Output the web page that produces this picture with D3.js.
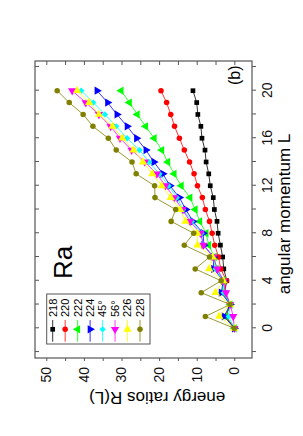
<!DOCTYPE html>
<html>
<head>
<meta charset="utf-8">
<script src="https://cdn.jsdelivr.net/npm/d3@7"></script>
<style>
  body { margin: 0; background: #fff; }
  text { font-family: "Liberation Sans", Arial, sans-serif; }
</style>
</head>
<body>
<svg id="chart" width="303" height="436"></svg>
<script>
// angular momentum L (x) and energy ratios R(L) per nucleus
const angMom = [0, 1, 2, 3, 4, 5, 6, 7, 8, 9, 10, 11, 12, 13, 14, 15, 16, 17, 18, 19, 20]

const r218 = [0, 2.3, 1.1, 2.6, 2.0, 2.8, 3.1, 3.7, 4.3, 4.6, 5.3, 5.6, 6.4, 6.8, 7.5, 7.8, 8.6, 8.9, 9.7, 10.0, 11.0]
const r220 = [0, 2.2, 1.1, 2.8, 2.1, 3.6, 4.2, 5.2, 5.9, 6.6, 7.7, 8.5, 9.8, 10.7, 11.9, 13.3, 14.6, 15.9, 16.9, 18.0, 19.5]
const r222 = [0, 2.5, 1.1, 3.2, 2.8, 4.8, 5.3, 6.8, 7.5, 9.2, 10.4, 11.8, 14.1, 16.0, 17.7, 19.3, 21.3, 23.6, 25.8, 27.9, 30.1]
const r224 = [0, 2.7, 1.1, 3.5, 2.9, 5.5, 5.6, 8.1, 8.3, 11.0, 12.9, 14.6, 17.1, 19.0, 21.4, 23.5, 26.0, 28.5, 31.2, 33.7, 36.5]
const r45 = [0, 1.5, 1.1, 2.8, 2.9, 5.0, 5.6, 8.3, 8.7, 11.3, 13.6, 15.3, 17.5, 19.9, 22.7, 25.2, 28.5, 31.4, 34.4, 37.5, 40.7]
const r56 = [0, 0.3, 1.1, 2.2, 2.9, 4.5, 5.6, 8.2, 9.0, 11.8, 13.8, 16.0, 18.3, 20.6, 23.8, 27.3, 30.4, 32.9, 36.0, 39.5, 43.1]
const r226 = [0, 4.0, 1.1, 5.0, 2.9, 6.7, 5.8, 9.8, 9.8, 13.0, 14.4, 16.9, 19.3, 21.8, 24.3, 26.8, 29.8, 32.4, 36.0, 38.6, 41.8]
const r228 = [0, 7.7, 1.1, 8.8, 3.5, 10.4, 6.6, 13.3, 10.8, 16.8, 15.6, 21.1, 21.2, 26.1, 27.2, 31.4, 33.5, 37.6, 40.2, 43.9, 47.1]

const seriesNames = ['218', '220', '222', '224', '45°', '56°', '226', '228']
const seriesValues = [r218, r220, r222, r224, r45, r56, r226, r228]
const seriesColors = ['#000000', '#ff0000', '#00ff00', '#0000ff', '#00ffff', '#ff00ff', '#ffff00', '#808000']
const seriesMarks = ['square', 'circle', 'left', 'right', 'diamond', 'down', 'up', 'circle']

const lTicks = [0, 4, 8, 12, 16, 20]
const rTicks = [0, 10, 20, 30, 40, 50]

function drawChart() {
  const svg = d3.select('#chart')

  // the whole figure is drawn upright, then turned a quarter turn counter-clockwise
  const W = 297, H = 217
  const g = svg.append('g').attr('transform', 'translate(35,358) rotate(-90)')

  const x = d3.scaleLinear().domain([-2.5, 22.5]).range([0, W])
  const y = d3.scaleLinear().domain([-4.7, 53]).range([H, 0])

  const markOf = kind => {
    switch (kind) {
      case 'square': return { type: d3.symbolSquare, size: 22, rot: 0 }
      case 'circle': return { type: d3.symbolCircle, size: 24, rot: 0 }
      case 'diamond': return { type: d3.symbolSquare, size: 20, rot: 45 }
      case 'up': return { type: d3.symbolTriangle, size: 30, rot: 0 }
      case 'down': return { type: d3.symbolTriangle, size: 30, rot: 180 }
      case 'left': return { type: d3.symbolTriangle, size: 30, rot: -90 }
      case 'right': return { type: d3.symbolTriangle, size: 30, rot: 90 }
    }
  }

  // axes
  const lMinor = d3.range(-2, 23, 2)
  const rMinor = d3.range(0, 51, 5)

  const bottom = g.append('g')
    .attr('transform', `translate(0,${H})`)
    .call(d3.axisBottom(x).tickValues(lMinor).tickSize(4).tickPadding(6)
      .tickFormat(d => lTicks.includes(d) ? d : ''))
  const top = g.append('g')
    .call(d3.axisTop(x).tickValues(lMinor).tickSize(-4).tickFormat(''))
  const left = g.append('g')
    .call(d3.axisLeft(y).tickValues(rMinor).tickSize(3).tickPadding(6)
      .tickFormat(d => rTicks.includes(d) ? d : ''))
  const right = g.append('g')
    .attr('transform', `translate(${W},0)`)
    .call(d3.axisRight(y).tickValues(rMinor).tickSize(-4).tickFormat(''))

  ;[bottom, top, left, right].forEach(a => {
    a.select('.domain').remove()
    a.selectAll('line').attr('stroke', '#555')
    a.selectAll('text')
      .attr('font-size', 14)
      .attr('fill', '#111')
      .style('font-family', '"Liberation Sans", Arial, sans-serif')
  })

  g.append('rect')
    .attr('width', W)
    .attr('height', H)
    .attr('fill', 'none')
    .attr('stroke', '#555')
    .attr('stroke-width', 1.2)

  // axis titles
  g.append('text')
    .attr('x', 144)
    .attr('y', H + 38)
    .attr('text-anchor', 'middle')
    .attr('font-size', 17)
    .text('angular momentum L')

  g.append('text')
    .attr('transform', `translate(-34,${y(20.5)}) rotate(-90)`)
    .attr('text-anchor', 'middle')
    .attr('font-size', 17)
    .text('energy ratios R(L)')

  g.append('text')
    .attr('x', 79)
    .attr('y', 37)
    .attr('font-size', 26)
    .text('Ra')

  g.append('text')
    .attr('x', 273)
    .attr('y', 205)
    .attr('font-size', 16)
    .text('(b)')

  // series
  const line = d3.line()
    .x(d => x(d.L))
    .y(d => y(d.R))

  const series = seriesNames.map((name, i) => ({
    name,
    color: seriesColors[i],
    mark: markOf(seriesMarks[i]),
    points: angMom.map((L, j) => ({ L, R: seriesValues[i][j] }))
  }))

  const sg = g.selectAll('g.series')
    .data(series)
    .join('g')
    .attr('class', 'series')

  sg.append('path')
    .attr('d', d => line(d.points))
    .attr('fill', 'none')
    .attr('stroke', d => d.color)
    .attr('stroke-width', 0.8)

  sg.each(function (s) {
    d3.select(this).selectAll('path.pt')
      .data(s.points)
      .join('path')
      .attr('class', 'pt')
      .attr('d', d3.symbol().type(s.mark.type).size(s.mark.size))
      .attr('transform', d => `translate(${x(d.L)},${y(d.R)}) rotate(${90 + s.mark.rot})`)
      .attr('fill', s.color)
  })

  // legend
  const leg = g.append('g').attr('transform', 'translate(14,11.7)')
  leg.append('rect')
    .attr('width', 50)
    .attr('height', 103.3)
    .attr('fill', '#fff')
    .attr('stroke', '#555')
    .attr('stroke-width', 1)

  const rowPos = d3.scalePoint().domain(seriesNames).range([6, 93.3])

  const rows = leg.selectAll('g.row')
    .data(series)
    .join('g')
    .attr('class', 'row')
    .attr('transform', d => `translate(0,${rowPos(d.name)})`)

  rows.append('line')
    .attr('x1', 2.3)
    .attr('x2', 24)
    .attr('stroke', d => d.color)
    .attr('stroke-width', 0.8)

  rows.append('path')
    .attr('d', d => d3.symbol().type(d.mark.type).size(d.mark.size)())
    .attr('transform', d => `translate(14.7,0) rotate(${90 + d.mark.rot})`)
    .attr('fill', d => d.color)

  rows.append('text')
    .attr('x', 27)
    .attr('dy', '0.35em')
    .attr('font-size', 11)
    .text(d => d.name)
}

document.addEventListener('DOMContentLoaded', drawChart, false)
</script>
</body>
</html>
